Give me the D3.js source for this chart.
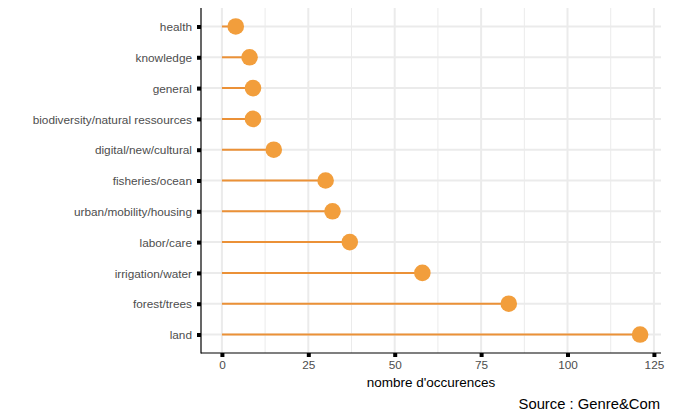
<!DOCTYPE html>
<html>
<head>
<meta charset="utf-8">
<script src="https://cdn.jsdelivr.net/npm/d3@7"></script>
<style>
body{margin:0;background:#fff;}
svg{display:block;font-family:"Liberation Sans",Arial,sans-serif;}
</style>
</head>
<body>
<svg id="chart" width="686" height="416"></svg>
<script>
const categories = ["health","knowledge","general","biodiversity/natural ressources","digital/new/cultural","fisheries/ocean","urban/mobility/housing","labor/care","irrigation/water","forest/trees","land"];
const values = [4, 8, 9, 9, 15, 30, 32, 37, 58, 83, 121];
const xTicks = [0, 25, 50, 75, 100, 125];
const xMinor = [12.5, 37.5, 62.5, 87.5, 112.5];

const svg = d3.select("#chart");
const margin = {left: 201, right: 25, top: 8, bottom: 63};
const W = 686, H = 416;
const pw = W - margin.left - margin.right;
const ph = H - margin.top - margin.bottom;

const maxV = d3.max(values), minV = 0;
const pad = (maxV - minV) * 0.05;
const x = d3.scaleLinear().domain([minV - pad, maxV + pad]).range([0, pw]);
const y = d3.scalePoint().domain(categories).range([0, ph]).padding(0.6);

const g = svg.append("g").attr("transform", `translate(${margin.left},${margin.top})`);

// gridlines
g.selectAll(".minor").data(xMinor).enter().append("line")
  .attr("x1", d => x(d)).attr("x2", d => x(d)).attr("y1", 0).attr("y2", ph)
  .attr("stroke", "#ebebeb").attr("stroke-width", 1);
g.selectAll(".major").data(xTicks).enter().append("line")
  .attr("x1", d => x(d)).attr("x2", d => x(d)).attr("y1", 0).attr("y2", ph)
  .attr("stroke", "#ebebeb").attr("stroke-width", 2);
g.selectAll(".hgrid").data(categories).enter().append("line")
  .attr("x1", 0).attr("x2", pw).attr("y1", d => y(d)).attr("y2", d => y(d))
  .attr("stroke", "#ebebeb").attr("stroke-width", 2);

// segments
g.selectAll(".seg").data(categories).enter().append("line")
  .attr("x1", x(0)).attr("x2", (d, i) => x(values[i]))
  .attr("y1", d => y(d)).attr("y2", d => y(d))
  .attr("stroke", "#EB9137").attr("stroke-width", 2);

// points
g.selectAll(".pt").data(categories).enter().append("circle")
  .attr("cx", (d, i) => x(values[i])).attr("cy", d => y(d))
  .attr("r", 8.3).attr("fill", "#F29E3C");

// axes
const yAxis = d3.axisLeft(y).tickSize(4).tickPadding(5);
const yg = g.append("g").call(yAxis);
yg.select(".domain").remove();
yg.selectAll(".tick line").attr("stroke", "#000").attr("stroke-width", 4);
yg.selectAll(".tick text").attr("fill", "#4d4d4d").style("font-size", "11.8px")
  .attr("dy", "0.35em");

const xAxis = d3.axisBottom(x).tickValues(xTicks).tickSize(4).tickPadding(4);
const xg = g.append("g").attr("transform", `translate(0,${ph})`).call(xAxis);
xg.select(".domain").remove();
xg.selectAll(".tick line").attr("stroke", "#000").attr("stroke-width", 4);
xg.selectAll(".tick text").attr("fill", "#4d4d4d").style("font-size", "11.8px");

// axis lines
g.append("line").attr("x1", 0).attr("x2", 0).attr("y1", 0).attr("y2", ph + 0.5)
  .attr("stroke", "#000").attr("stroke-width", 1.2);
g.append("line").attr("x1", 0).attr("x2", pw).attr("y1", ph).attr("y2", ph)
  .attr("stroke", "#000").attr("stroke-width", 1.2);

// axis title
svg.append("text").attr("x", margin.left + pw / 2).attr("y", 387)
  .attr("text-anchor", "middle").attr("fill", "#000").style("font-size", "13.5px")
  .text("nombre d'occurences");

// caption
svg.append("text").attr("x", margin.left + pw - 1).attr("y", 409)
  .attr("text-anchor", "end").attr("fill", "#000").style("font-size", "14.8px")
  .text("Source : Genre&Com");
</script>
</body>
</html>
